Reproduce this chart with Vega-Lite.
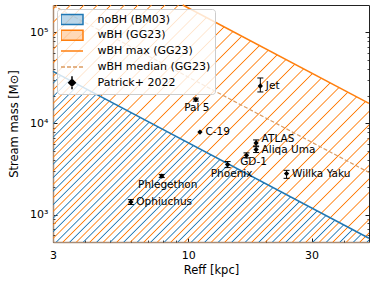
{
"$schema": "https://vega.github.io/schema/vega-lite/v6.json",
"width": 316, "height": 237,
"autosize": {"type": "none"},
"padding": {"left": 53, "top": 5, "right": 5, "bottom": 43},
"config": {
  "font": "DejaVu Sans",
  "view": {"stroke": "#222222", "strokeWidth": 1},
  "axis": {"grid": false, "domain": false, "labelFlush": false, "labelFont": "DejaVu Sans", "titleFont": "DejaVu Sans", "labelFontSize": 11, "titleFontSize": 11.5, "titleFontWeight": "normal", "labelColor": "black", "titleColor": "black", "tickColor": "black", "tickWidth": 0.9, "zindex": 1}
},
"datasets": {
  "wbh": [{"R": 3, "M": 200000}, {"R": 9.52, "M": 200000}, {"R": 50, "M": 16600}],
  "wbhmax": [{"R": 9.52, "M": 200000}, {"R": 50, "M": 16600}],
  "nobh": [{"R": 3, "M": 37400}, {"R": 50, "M": 550}],
  "median": [{"R": 3, "M": 197000}, {"R": 50, "M": 2900}],
  "pts": [
    {"name": "Jet", "R": 19.0, "M": 25800, "lo": 22200, "hi": 31600},
    {"name": "Pal 5", "R": 10.7, "M": 18300, "lo": 17600, "hi": 19000},
    {"name": "C-19", "R": 11.1, "M": 8060},
    {"name": "ATLAS", "R": 18.3, "M": 6110, "lo": 5660, "hi": 6600},
    {"name": "Aliqa Uma", "R": 18.3, "M": 5170, "lo": 4800, "hi": 5560},
    {"name": "GD-1", "R": 16.8, "M": 4470, "lo": 4190, "hi": 4760},
    {"name": "Phoenix", "R": 14.2, "M": 3540, "lo": 3280, "hi": 3820},
    {"name": "Willka Yaku", "R": 24.0, "M": 2820, "lo": 2500, "hi": 3060},
    {"name": "Phlegethon", "R": 7.9, "M": 2650, "lo": 2550, "hi": 2760},
    {"name": "Ophiuchus", "R": 6.0, "M": 1375, "lo": 1290, "hi": 1460}
  ]
},
"layer": [
  {
    "data": {"name": "wbh"},
    "mark": {"type": "area", "opacity": 1, "fill": {"gradient": "linear", "x1": 0, "y1": 0, "x2": 1.12, "y2": 0.84, "stops": [
      {"offset": 0.0050, "color": "rgba(255,127,14,0)"}, {"offset": 0.0072, "color": "#ff7f0e"}, {"offset": 0.0094, "color": "rgba(255,127,14,0)"},
      {"offset": 0.0295, "color": "rgba(255,127,14,0)"}, {"offset": 0.0317, "color": "#ff7f0e"}, {"offset": 0.0339, "color": "rgba(255,127,14,0)"},
      {"offset": 0.0539, "color": "rgba(255,127,14,0)"}, {"offset": 0.0561, "color": "#ff7f0e"}, {"offset": 0.0583, "color": "rgba(255,127,14,0)"},
      {"offset": 0.0783, "color": "rgba(255,127,14,0)"}, {"offset": 0.0805, "color": "#ff7f0e"}, {"offset": 0.0827, "color": "rgba(255,127,14,0)"},
      {"offset": 0.1027, "color": "rgba(255,127,14,0)"}, {"offset": 0.1049, "color": "#ff7f0e"}, {"offset": 0.1071, "color": "rgba(255,127,14,0)"},
      {"offset": 0.1271, "color": "rgba(255,127,14,0)"}, {"offset": 0.1293, "color": "#ff7f0e"}, {"offset": 0.1315, "color": "rgba(255,127,14,0)"},
      {"offset": 0.1515, "color": "rgba(255,127,14,0)"}, {"offset": 0.1537, "color": "#ff7f0e"}, {"offset": 0.1559, "color": "rgba(255,127,14,0)"},
      {"offset": 0.1759, "color": "rgba(255,127,14,0)"}, {"offset": 0.1781, "color": "#ff7f0e"}, {"offset": 0.1803, "color": "rgba(255,127,14,0)"},
      {"offset": 0.2003, "color": "rgba(255,127,14,0)"}, {"offset": 0.2025, "color": "#ff7f0e"}, {"offset": 0.2047, "color": "rgba(255,127,14,0)"},
      {"offset": 0.2247, "color": "rgba(255,127,14,0)"}, {"offset": 0.2269, "color": "#ff7f0e"}, {"offset": 0.2291, "color": "rgba(255,127,14,0)"},
      {"offset": 0.2492, "color": "rgba(255,127,14,0)"}, {"offset": 0.2514, "color": "#ff7f0e"}, {"offset": 0.2536, "color": "rgba(255,127,14,0)"},
      {"offset": 0.2736, "color": "rgba(255,127,14,0)"}, {"offset": 0.2758, "color": "#ff7f0e"}, {"offset": 0.2780, "color": "rgba(255,127,14,0)"},
      {"offset": 0.2980, "color": "rgba(255,127,14,0)"}, {"offset": 0.3002, "color": "#ff7f0e"}, {"offset": 0.3024, "color": "rgba(255,127,14,0)"},
      {"offset": 0.3224, "color": "rgba(255,127,14,0)"}, {"offset": 0.3246, "color": "#ff7f0e"}, {"offset": 0.3268, "color": "rgba(255,127,14,0)"},
      {"offset": 0.3468, "color": "rgba(255,127,14,0)"}, {"offset": 0.3490, "color": "#ff7f0e"}, {"offset": 0.3512, "color": "rgba(255,127,14,0)"},
      {"offset": 0.3712, "color": "rgba(255,127,14,0)"}, {"offset": 0.3734, "color": "#ff7f0e"}, {"offset": 0.3756, "color": "rgba(255,127,14,0)"},
      {"offset": 0.3956, "color": "rgba(255,127,14,0)"}, {"offset": 0.3978, "color": "#ff7f0e"}, {"offset": 0.4000, "color": "rgba(255,127,14,0)"},
      {"offset": 0.4200, "color": "rgba(255,127,14,0)"}, {"offset": 0.4222, "color": "#ff7f0e"}, {"offset": 0.4244, "color": "rgba(255,127,14,0)"},
      {"offset": 0.4445, "color": "rgba(255,127,14,0)"}, {"offset": 0.4467, "color": "#ff7f0e"}, {"offset": 0.4489, "color": "rgba(255,127,14,0)"},
      {"offset": 0.4689, "color": "rgba(255,127,14,0)"}, {"offset": 0.4711, "color": "#ff7f0e"}, {"offset": 0.4733, "color": "rgba(255,127,14,0)"},
      {"offset": 0.4933, "color": "rgba(255,127,14,0)"}, {"offset": 0.4955, "color": "#ff7f0e"}, {"offset": 0.4977, "color": "rgba(255,127,14,0)"},
      {"offset": 0.5177, "color": "rgba(255,127,14,0)"}, {"offset": 0.5199, "color": "#ff7f0e"}, {"offset": 0.5221, "color": "rgba(255,127,14,0)"},
      {"offset": 0.5421, "color": "rgba(255,127,14,0)"}, {"offset": 0.5443, "color": "#ff7f0e"}, {"offset": 0.5465, "color": "rgba(255,127,14,0)"},
      {"offset": 0.5665, "color": "rgba(255,127,14,0)"}, {"offset": 0.5687, "color": "#ff7f0e"}, {"offset": 0.5709, "color": "rgba(255,127,14,0)"},
      {"offset": 0.5909, "color": "rgba(255,127,14,0)"}, {"offset": 0.5931, "color": "#ff7f0e"}, {"offset": 0.5953, "color": "rgba(255,127,14,0)"},
      {"offset": 0.6153, "color": "rgba(255,127,14,0)"}, {"offset": 0.6175, "color": "#ff7f0e"}, {"offset": 0.6197, "color": "rgba(255,127,14,0)"},
      {"offset": 0.6398, "color": "rgba(255,127,14,0)"}, {"offset": 0.6420, "color": "#ff7f0e"}, {"offset": 0.6442, "color": "rgba(255,127,14,0)"},
      {"offset": 0.6642, "color": "rgba(255,127,14,0)"}, {"offset": 0.6664, "color": "#ff7f0e"}, {"offset": 0.6686, "color": "rgba(255,127,14,0)"},
      {"offset": 0.6886, "color": "rgba(255,127,14,0)"}, {"offset": 0.6908, "color": "#ff7f0e"}, {"offset": 0.6930, "color": "rgba(255,127,14,0)"},
      {"offset": 0.7130, "color": "rgba(255,127,14,0)"}, {"offset": 0.7152, "color": "#ff7f0e"}, {"offset": 0.7174, "color": "rgba(255,127,14,0)"},
      {"offset": 0.7374, "color": "rgba(255,127,14,0)"}, {"offset": 0.7396, "color": "#ff7f0e"}, {"offset": 0.7418, "color": "rgba(255,127,14,0)"},
      {"offset": 0.7618, "color": "rgba(255,127,14,0)"}, {"offset": 0.7640, "color": "#ff7f0e"}, {"offset": 0.7662, "color": "rgba(255,127,14,0)"},
      {"offset": 0.7862, "color": "rgba(255,127,14,0)"}, {"offset": 0.7884, "color": "#ff7f0e"}, {"offset": 0.7906, "color": "rgba(255,127,14,0)"},
      {"offset": 0.8106, "color": "rgba(255,127,14,0)"}, {"offset": 0.8128, "color": "#ff7f0e"}, {"offset": 0.8150, "color": "rgba(255,127,14,0)"},
      {"offset": 0.8351, "color": "rgba(255,127,14,0)"}, {"offset": 0.8373, "color": "#ff7f0e"}, {"offset": 0.8395, "color": "rgba(255,127,14,0)"},
      {"offset": 0.8595, "color": "rgba(255,127,14,0)"}, {"offset": 0.8617, "color": "#ff7f0e"}, {"offset": 0.8639, "color": "rgba(255,127,14,0)"},
      {"offset": 0.8839, "color": "rgba(255,127,14,0)"}, {"offset": 0.8861, "color": "#ff7f0e"}, {"offset": 0.8883, "color": "rgba(255,127,14,0)"},
      {"offset": 0.9083, "color": "rgba(255,127,14,0)"}, {"offset": 0.9105, "color": "#ff7f0e"}, {"offset": 0.9127, "color": "rgba(255,127,14,0)"},
      {"offset": 0.9327, "color": "rgba(255,127,14,0)"}, {"offset": 0.9349, "color": "#ff7f0e"}, {"offset": 0.9371, "color": "rgba(255,127,14,0)"},
      {"offset": 0.9571, "color": "rgba(255,127,14,0)"}, {"offset": 0.9593, "color": "#ff7f0e"}, {"offset": 0.9615, "color": "rgba(255,127,14,0)"},
      {"offset": 0.9815, "color": "rgba(255,127,14,0)"}, {"offset": 0.9837, "color": "#ff7f0e"}, {"offset": 0.9859, "color": "rgba(255,127,14,0)"}
    ]}},
    "encoding": {
      "x": {"field": "R", "type": "quantitative", "scale": {"type": "log", "domain": [3, 50], "nice": false},
            "axis": {"orient": "bottom", "values": [3, 10, 30], "format": "d", "tickSize": -4, "labelPadding": 11, "title": "Reff [kpc]", "titlePadding": 4, "domain": true, "domainColor": "#a88c76", "domainWidth": 1.5}},
      "y": {"field": "M", "type": "quantitative", "scale": {"type": "log", "domain": [500, 200000], "nice": false},
            "axis": {"orient": "left", "values": [1000, 10000, 100000], "labelExpr": "datum.value >= 100000 ? '10⁵' : datum.value >= 10000 ? '10⁴' : '10³'", "tickSize": -4, "labelPadding": 9, "title": "Stream mass [M⊙]", "titlePadding": 10, "domain": true, "domainColor": "#a88c76", "domainWidth": 1.5}},
      "y2": {"datum": 500}
    }
  },
  {
    "data": {"name": "nobh"},
    "mark": {"type": "area", "opacity": 1, "fill": {"gradient": "linear", "x1": 0, "y1": 0, "x2": 1.1923, "y2": 0.6441, "stops": [
      {"offset": 0.0221, "color": "rgba(31,119,180,0)"}, {"offset": 0.0246, "color": "#1f77b4"}, {"offset": 0.0271, "color": "rgba(31,119,180,0)"},
      {"offset": 0.0498, "color": "rgba(31,119,180,0)"}, {"offset": 0.0523, "color": "#1f77b4"}, {"offset": 0.0548, "color": "rgba(31,119,180,0)"},
      {"offset": 0.0776, "color": "rgba(31,119,180,0)"}, {"offset": 0.0801, "color": "#1f77b4"}, {"offset": 0.0826, "color": "rgba(31,119,180,0)"},
      {"offset": 0.1053, "color": "rgba(31,119,180,0)"}, {"offset": 0.1078, "color": "#1f77b4"}, {"offset": 0.1103, "color": "rgba(31,119,180,0)"},
      {"offset": 0.1331, "color": "rgba(31,119,180,0)"}, {"offset": 0.1356, "color": "#1f77b4"}, {"offset": 0.1381, "color": "rgba(31,119,180,0)"},
      {"offset": 0.1608, "color": "rgba(31,119,180,0)"}, {"offset": 0.1633, "color": "#1f77b4"}, {"offset": 0.1658, "color": "rgba(31,119,180,0)"},
      {"offset": 0.1886, "color": "rgba(31,119,180,0)"}, {"offset": 0.1911, "color": "#1f77b4"}, {"offset": 0.1936, "color": "rgba(31,119,180,0)"},
      {"offset": 0.2164, "color": "rgba(31,119,180,0)"}, {"offset": 0.2189, "color": "#1f77b4"}, {"offset": 0.2214, "color": "rgba(31,119,180,0)"},
      {"offset": 0.2441, "color": "rgba(31,119,180,0)"}, {"offset": 0.2466, "color": "#1f77b4"}, {"offset": 0.2491, "color": "rgba(31,119,180,0)"},
      {"offset": 0.2719, "color": "rgba(31,119,180,0)"}, {"offset": 0.2744, "color": "#1f77b4"}, {"offset": 0.2769, "color": "rgba(31,119,180,0)"},
      {"offset": 0.2996, "color": "rgba(31,119,180,0)"}, {"offset": 0.3021, "color": "#1f77b4"}, {"offset": 0.3046, "color": "rgba(31,119,180,0)"},
      {"offset": 0.3274, "color": "rgba(31,119,180,0)"}, {"offset": 0.3299, "color": "#1f77b4"}, {"offset": 0.3324, "color": "rgba(31,119,180,0)"},
      {"offset": 0.3551, "color": "rgba(31,119,180,0)"}, {"offset": 0.3576, "color": "#1f77b4"}, {"offset": 0.3601, "color": "rgba(31,119,180,0)"},
      {"offset": 0.3829, "color": "rgba(31,119,180,0)"}, {"offset": 0.3854, "color": "#1f77b4"}, {"offset": 0.3879, "color": "rgba(31,119,180,0)"},
      {"offset": 0.4106, "color": "rgba(31,119,180,0)"}, {"offset": 0.4131, "color": "#1f77b4"}, {"offset": 0.4156, "color": "rgba(31,119,180,0)"},
      {"offset": 0.4384, "color": "rgba(31,119,180,0)"}, {"offset": 0.4409, "color": "#1f77b4"}, {"offset": 0.4434, "color": "rgba(31,119,180,0)"},
      {"offset": 0.4661, "color": "rgba(31,119,180,0)"}, {"offset": 0.4686, "color": "#1f77b4"}, {"offset": 0.4711, "color": "rgba(31,119,180,0)"},
      {"offset": 0.4939, "color": "rgba(31,119,180,0)"}, {"offset": 0.4964, "color": "#1f77b4"}, {"offset": 0.4989, "color": "rgba(31,119,180,0)"},
      {"offset": 0.5217, "color": "rgba(31,119,180,0)"}, {"offset": 0.5242, "color": "#1f77b4"}, {"offset": 0.5267, "color": "rgba(31,119,180,0)"},
      {"offset": 0.5494, "color": "rgba(31,119,180,0)"}, {"offset": 0.5519, "color": "#1f77b4"}, {"offset": 0.5544, "color": "rgba(31,119,180,0)"},
      {"offset": 0.5772, "color": "rgba(31,119,180,0)"}, {"offset": 0.5797, "color": "#1f77b4"}, {"offset": 0.5822, "color": "rgba(31,119,180,0)"},
      {"offset": 0.6049, "color": "rgba(31,119,180,0)"}, {"offset": 0.6074, "color": "#1f77b4"}, {"offset": 0.6099, "color": "rgba(31,119,180,0)"},
      {"offset": 0.6327, "color": "rgba(31,119,180,0)"}, {"offset": 0.6352, "color": "#1f77b4"}, {"offset": 0.6377, "color": "rgba(31,119,180,0)"},
      {"offset": 0.6604, "color": "rgba(31,119,180,0)"}, {"offset": 0.6629, "color": "#1f77b4"}, {"offset": 0.6654, "color": "rgba(31,119,180,0)"},
      {"offset": 0.6882, "color": "rgba(31,119,180,0)"}, {"offset": 0.6907, "color": "#1f77b4"}, {"offset": 0.6932, "color": "rgba(31,119,180,0)"},
      {"offset": 0.7159, "color": "rgba(31,119,180,0)"}, {"offset": 0.7184, "color": "#1f77b4"}, {"offset": 0.7209, "color": "rgba(31,119,180,0)"},
      {"offset": 0.7437, "color": "rgba(31,119,180,0)"}, {"offset": 0.7462, "color": "#1f77b4"}, {"offset": 0.7487, "color": "rgba(31,119,180,0)"},
      {"offset": 0.7715, "color": "rgba(31,119,180,0)"}, {"offset": 0.7740, "color": "#1f77b4"}, {"offset": 0.7765, "color": "rgba(31,119,180,0)"},
      {"offset": 0.7992, "color": "rgba(31,119,180,0)"}, {"offset": 0.8017, "color": "#1f77b4"}, {"offset": 0.8042, "color": "rgba(31,119,180,0)"},
      {"offset": 0.8270, "color": "rgba(31,119,180,0)"}, {"offset": 0.8295, "color": "#1f77b4"}, {"offset": 0.8320, "color": "rgba(31,119,180,0)"},
      {"offset": 0.8547, "color": "rgba(31,119,180,0)"}, {"offset": 0.8572, "color": "#1f77b4"}, {"offset": 0.8597, "color": "rgba(31,119,180,0)"},
      {"offset": 0.8825, "color": "rgba(31,119,180,0)"}, {"offset": 0.8850, "color": "#1f77b4"}, {"offset": 0.8875, "color": "rgba(31,119,180,0)"},
      {"offset": 0.9102, "color": "rgba(31,119,180,0)"}, {"offset": 0.9127, "color": "#1f77b4"}, {"offset": 0.9152, "color": "rgba(31,119,180,0)"},
      {"offset": 0.9380, "color": "rgba(31,119,180,0)"}, {"offset": 0.9405, "color": "#1f77b4"}, {"offset": 0.9430, "color": "rgba(31,119,180,0)"},
      {"offset": 0.9657, "color": "rgba(31,119,180,0)"}, {"offset": 0.9682, "color": "#1f77b4"}, {"offset": 0.9707, "color": "rgba(31,119,180,0)"},
      {"offset": 0.9935, "color": "rgba(31,119,180,0)"}, {"offset": 0.9960, "color": "#1f77b4"}, {"offset": 0.9985, "color": "rgba(31,119,180,0)"}
    ]}},
    "encoding": {
      "x": {"field": "R", "type": "quantitative", "axis": {"orient": "bottom", "values": [4, 5, 6, 7, 8, 9, 20, 40], "labels": false, "tickSize": -2, "tickWidth": 0.7, "title": null, "domain": false}},
      "y": {"field": "M", "type": "quantitative", "axis": {"orient": "left", "values": [600, 700, 800, 900, 2000, 3000, 4000, 5000, 6000, 7000, 8000, 9000, 20000, 30000, 40000, 50000, 60000, 70000, 80000, 90000], "labels": false, "tickSize": -2, "tickWidth": 0.7, "title": null, "domain": false}},
      "y2": {"datum": 500}
    }
  },
  {
    "data": {"name": "wbhmax"},
    "mark": {"type": "line", "strokeWidth": 1.5},
    "encoding": {
      "x": {"field": "R", "type": "quantitative", "axis": null},
      "y": {"field": "M", "type": "quantitative", "axis": {"orient": "right", "values": [1000, 10000, 100000], "labels": false, "tickSize": -4, "title": null, "domain": false}},
      "color": {"datum": "wBH max (GG23)",
        "scale": {"domain": ["noBH (BM03)", "wBH (GG23)", "wBH max (GG23)", "wBH median (GG23)", "Patrick+ 2022"], "range": ["#1f77b4", "#ff7f0e", "#ff7f0e", "#dc9c62", "black"]},
        "legend": {"title": null, "orient": "top-left", "offset": 4, "padding": 4, "fillColor": "rgba(255,255,255,0.8)", "strokeColor": "#cccccc", "cornerRadius": 3,
          "symbolSize": 121, "symbolStrokeWidth": 1.5, "symbolOffset": 4.5, "labelOffset": 19, "rowPadding": 2.8, "clipHeight": 13, "labelFontSize": 11, "labelFont": "DejaVu Sans", "labelColor": "black", "labelLimit": 300,
          "encode": {"symbols": {"update": {
            "size": {"value": 121},
            "shape": [
              {"test": "datum.value === 'noBH (BM03)' || datum.value === 'wBH (GG23)'", "value": "M-2,-0.9L2,-0.9L2,0.9L-2,0.9Z"},
              {"test": "datum.value === 'Patrick+ 2022'", "value": "M0,-1.5L0,1.5M-0.65,-1.5L0.65,-1.5M-0.65,1.5L0.65,1.5M-0.6,0L0,-0.6L0.6,0L0,0.6Z"},
              {"value": "M-2,0L2,0"}
            ],
            "fillOpacity": [
              {"test": "datum.value === 'noBH (BM03)' || datum.value === 'wBH (GG23)'", "value": 0.3},
              {"value": 1}
            ],
            "strokeDash": [{"test": "datum.value === 'wBH median (GG23)'", "value": [4, 2]}, {"value": []}],
            "opacity": {"value": 1}
          }}}
        }}
    }
  },
  {
    "data": {"name": "nobh"},
    "mark": {"type": "line", "strokeWidth": 1.5, "color": "#1f77b4"},
    "encoding": {
      "x": {"field": "R", "type": "quantitative", "axis": null},
      "y": {"field": "M", "type": "quantitative", "axis": {"orient": "right", "values": [600, 700, 800, 900, 2000, 3000, 4000, 5000, 6000, 7000, 8000, 9000, 20000, 30000, 40000, 50000, 60000, 70000, 80000, 90000], "labels": false, "tickSize": -2, "tickWidth": 0.7, "title": null, "domain": false}}
    }
  },
  {
    "data": {"name": "median"},
    "mark": {"type": "line", "strokeWidth": 1.2, "strokeDash": [4, 2]},
    "encoding": {
      "x": {"field": "R", "type": "quantitative", "axis": null},
      "y": {"field": "M", "type": "quantitative", "axis": null},
      "color": {"datum": "wBH median (GG23)"}
    }
  },
  {
    "data": {"name": "pts"},
    "mark": {"type": "rule", "color": "black", "strokeWidth": 1},
    "encoding": {
      "x": {"field": "R", "type": "quantitative", "axis": null},
      "y": {"field": "lo", "type": "quantitative", "axis": null},
      "y2": {"field": "hi"}
    }
  },
  {
    "data": {"name": "pts"},
    "mark": {"type": "tick", "orient": "horizontal", "color": "black", "size": 6, "thickness": 1, "opacity": 1},
    "encoding": {
      "x": {"field": "R", "type": "quantitative", "axis": null},
      "y": {"field": "lo", "type": "quantitative", "axis": null}
    }
  },
  {
    "data": {"name": "pts"},
    "mark": {"type": "tick", "orient": "horizontal", "color": "black", "size": 6, "thickness": 1, "opacity": 1},
    "encoding": {
      "x": {"field": "R", "type": "quantitative", "axis": null},
      "y": {"field": "hi", "type": "quantitative", "axis": null}
    }
  },
  {
    "data": {"name": "pts"},
    "mark": {"type": "point", "shape": "diamond", "filled": true, "size": 28, "opacity": 1},
    "encoding": {
      "x": {"field": "R", "type": "quantitative", "axis": null},
      "y": {"field": "M", "type": "quantitative", "axis": null},
      "color": {"datum": "Patrick+ 2022"}
    }
  },
  {
    "data": {"name": "pts"},
    "transform": [{"filter": "indexof(['Jet', 'Aliqa Uma', 'C-19', 'Willka Yaku', 'Ophiuchus'], datum.name) >= 0"}],
    "mark": {"type": "text", "align": "left", "baseline": "middle", "dx": 5.5, "fontSize": 10.5, "color": "black"},
    "encoding": {
      "x": {"field": "R", "type": "quantitative", "axis": null},
      "y": {"field": "M", "type": "quantitative", "axis": null},
      "text": {"field": "name"}
    }
  },
  {
    "data": {"name": "pts"},
    "transform": [{"filter": "datum.name === 'ATLAS'"}],
    "mark": {"type": "text", "align": "left", "baseline": "middle", "dx": 5.5, "dy": -4, "fontSize": 10.5, "color": "black"},
    "encoding": {
      "x": {"field": "R", "type": "quantitative", "axis": null},
      "y": {"field": "M", "type": "quantitative", "axis": null},
      "text": {"field": "name"}
    }
  },
  {
    "data": {"name": "pts"},
    "transform": [{"filter": "datum.name === 'GD-1'"}],
    "mark": {"type": "text", "align": "center", "baseline": "middle", "dx": 7, "dy": 7, "fontSize": 10.5, "color": "black"},
    "encoding": {
      "x": {"field": "R", "type": "quantitative", "axis": null},
      "y": {"field": "M", "type": "quantitative", "axis": null},
      "text": {"field": "name"}
    }
  },
  {
    "data": {"name": "pts"},
    "transform": [{"filter": "datum.name === 'Phoenix'"}],
    "mark": {"type": "text", "align": "center", "baseline": "middle", "dx": 4, "dy": 9, "fontSize": 10.5, "color": "black"},
    "encoding": {
      "x": {"field": "R", "type": "quantitative", "axis": null},
      "y": {"field": "M", "type": "quantitative", "axis": null},
      "text": {"field": "name"}
    }
  },
  {
    "data": {"name": "pts"},
    "transform": [{"filter": "datum.name === 'Phlegethon'"}],
    "mark": {"type": "text", "align": "center", "baseline": "middle", "dx": 6, "dy": 8.5, "fontSize": 10.5, "color": "black"},
    "encoding": {
      "x": {"field": "R", "type": "quantitative", "axis": null},
      "y": {"field": "M", "type": "quantitative", "axis": null},
      "text": {"field": "name"}
    }
  },
  {
    "data": {"name": "pts"},
    "transform": [{"filter": "datum.name === 'Pal 5'"}],
    "mark": {"type": "text", "align": "center", "baseline": "middle", "dx": 1, "dy": 8, "fontSize": 10.5, "color": "black"},
    "encoding": {
      "x": {"field": "R", "type": "quantitative", "axis": null},
      "y": {"field": "M", "type": "quantitative", "axis": null},
      "text": {"field": "name"}
    }
  }
],
"resolve": {"axis": {"x": "independent", "y": "independent"}}
}
